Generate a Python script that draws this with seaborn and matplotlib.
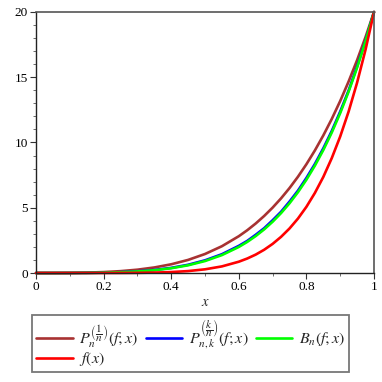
import numpy as np
import pandas as pd
import matplotlib
matplotlib.use("Agg")
import matplotlib.pyplot as plt
import seaborn as sns
from matplotlib.ticker import MultipleLocator

# ---- data ----
x_vals = [0.0, 0.05, 0.10, 0.15, 0.20, 0.25, 0.30, 0.35, 0.40, 0.45, 0.50,
          0.55, 0.60, 0.625, 0.65, 0.675, 0.70, 0.725, 0.75, 0.775, 0.80,
          0.825, 0.85, 0.875, 0.90, 0.925, 0.95, 0.975, 1.0]
p1_vals = [0.0, 0.002, 0.010, 0.030, 0.071, 0.142, 0.254, 0.424, 0.667, 1.003, 1.456,
           2.052, 2.819, 3.278, 3.793, 4.368, 5.008, 5.719, 6.507, 7.376, 8.334,
           9.387, 10.540, 11.802, 13.179, 14.680, 16.311, 18.082, 20.0]
pk_vals = [0.0, 0.0004, 0.003, 0.011, 0.030, 0.066, 0.128, 0.232, 0.392, 0.630, 0.970,
           1.440, 2.080, 2.460, 2.930, 3.430, 4.040, 4.690, 5.470, 6.310, 7.280,
           8.350, 9.550, 10.880, 12.370, 13.990, 15.830, 17.800, 20.0]
bn_vals = [0.0, 0.0003, 0.003, 0.010, 0.026, 0.059, 0.117, 0.214, 0.365, 0.591, 0.916,
           1.372, 1.996, 2.383, 2.830, 3.341, 3.926, 4.590, 5.342, 6.192, 7.148,
           8.222, 9.422, 10.762, 12.253, 13.908, 15.741, 17.766, 20.0]
f_vals = [0.0, 0.0, 0.00002, 0.0002, 0.0010, 0.0040, 0.012, 0.031, 0.071, 0.147, 0.282,
          0.506, 0.865, 1.11, 1.41, 1.78, 2.23, 2.77, 3.41, 4.17, 5.07,
          6.13, 7.36, 8.80, 10.46, 12.38, 14.59, 17.12, 20.0]

labels = [r"$P_n^{\left(\dfrac{1}{n}\right)}(f;x)$",
          r"$P_{n,k}^{\left(\dfrac{k}{n}\right)}(f;x)$",
          r"$B_n(f;x)$",
          r"$f(x)$"]
colors = ["#A83232", "#0000FF", "#00FF00", "#FF0000"]
x_ticks = [0, 0.2, 0.4, 0.6, 0.8, 1]
x_ticklabels = ["0", "0.2", "0.4", "0.6", "0.8", "1"]
y_ticks = [0, 5, 10, 15, 20]

sns.set_style("ticks")
plt.rcParams["font.family"] = ["Liberation Serif", "DejaVu Serif"]
plt.rcParams["mathtext.fontset"] = "stix"

fig = plt.figure(figsize=(3.82, 3.82), dpi=100)
ax = fig.add_axes([36 / 382, 1 - 273 / 382, (374 - 36) / 382, (273 - 12) / 382])

series = [p1_vals, pk_vals, bn_vals, f_vals]
for vals, lab, col in zip(series, labels, colors):
    df = pd.DataFrame({"x": x_vals, "y": vals})
    sns.lineplot(data=df, x="x", y="y", ax=ax, color=col, linewidth=1.9,
                 label=lab, clip_on=False, legend=False)

lines = ax.get_lines()
ax.set_xlim(0, 1)
ax.set_ylim(0, 20)
ax.set_xticks(x_ticks)
ax.set_xticklabels(x_ticklabels)
ax.set_yticks(y_ticks)
ax.xaxis.set_minor_locator(MultipleLocator(0.1))
ax.yaxis.set_minor_locator(MultipleLocator(1))
ax.tick_params(which="major", length=4, width=0.8, labelsize=9.5, colors="#333333",
               labelcolor="black", pad=2)
ax.tick_params(which="minor", length=2, width=0.6, colors="#555555")
ax.set_xlabel("$x$", fontsize=10.5, labelpad=2)
ax.set_ylabel("")
for s in ["left", "bottom"]:
    ax.spines[s].set_color("#222222")
    ax.spines[s].set_linewidth(1.0)
for s in ["top", "right"]:
    ax.spines[s].set_visible(True)
    ax.spines[s].set_color("#555555")
    ax.spines[s].set_linewidth(1.2)

order = [0, 3, 1, 2]
leg = fig.legend([lines[i] for i in order], [labels[i] for i in order],
                 loc="upper left", bbox_to_anchor=(32 / 382, 1 - 315 / 382),
                 ncol=3, fontsize=11.5, frameon=True, fancybox=False,
                 handlelength=2.3, handletextpad=0.4, columnspacing=0.45,
                 borderpad=0.25, labelspacing=0.05, borderaxespad=0)
leg.get_frame().set_edgecolor("#555555")
leg.get_frame().set_linewidth(1.3)

fig.savefig("out.png", dpi=100)
